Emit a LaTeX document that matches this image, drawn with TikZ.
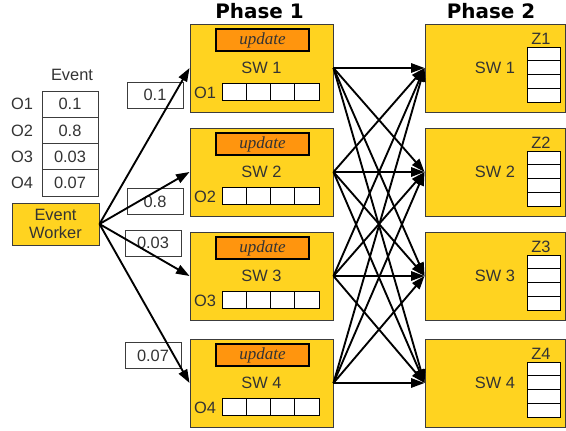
\documentclass[tikz,border=0pt]{standalone}
\usepackage{fontspec}
\setmainfont{Liberation Sans}
\newfontfamily\phasefont{DejaVu Sans}
\newfontfamily\updfont{Liberation Serif}
\usetikzlibrary{arrows.meta}

\definecolor{swyellow}{HTML}{FFD320}
\definecolor{updorange}{HTML}{FF950E}
\definecolor{txtgray}{HTML}{333333}
\definecolor{edgegray}{HTML}{3C3C3C}

\tikzset{
  swbox/.style={draw=edgegray, line width=0.8pt, fill=swyellow, inner sep=0pt,
    minimum width=4.29cm, minimum height=2.64cm},
  swboxb/.style={swbox, minimum width=4.2cm},
  updbar/.style={draw=black, line width=1.5pt, fill=updorange, inner sep=0pt,
    minimum width=2.79cm, minimum height=0.66cm,
    font=\updfont\itshape\fontsize{14.5}{16}\selectfont},
  valbox/.style={draw=edgegray, line width=0.7pt, fill=white, inner sep=0pt,
    minimum width=1.68cm, minimum height=0.78cm},
  cell/.style={draw=black, line width=0.8pt, fill=white},
  phase/.style={text=black, font=\phasefont\bfseries\fontsize{17}{19}\selectfont},
  arr/.style={-{Triangle[length=11.5pt, width=8pt]}, line width=1.6pt, black},
}

\begin{document}
\begin{tikzpicture}[x=0.03cm, y=-0.03cm,
  every node/.style={text=txtgray, font=\fontsize{14}{15.5}\selectfont}]
  \useasboundingbox (0,0) rectangle (566,431);

  \node[phase] (ph1) at (259.5,11) {Phase 1};
  \node[phase] (ph2) at (491,11) {Phase 2};

  % event table and its worker
  \node (evhead) at (72,75) {Event};
  \foreach \i/\v in {1/0.1, 2/0.8, 3/0.03, 4/0.07} {
    \node[valbox, minimum height=0.7875cm] (ev\i) at (70,77.875+26.25*\i) {\v};
    \node (eo\i) at (22,77.875+26.25*\i) {O\i};
  }
  \node[draw=edgegray, line width=0.8pt, fill=swyellow, align=center, inner sep=0pt,
    minimum width=2.61cm, minimum height=1.26cm] (worker) at (55.5,224) {Event\\Worker};

  % weights on the worker arrows
  \node[valbox] (w1) at (155,95) {0.1};
  \node[valbox] (w2) at (155,201.5) {0.8};
  \node[valbox] (w3) at (153,243) {0.03};
  \node[valbox] (w4) at (153,355.5) {0.07};

  % switches, phase 1 and phase 2
  \foreach \i/\y in {1/68, 2/172, 3/276, 4/383} {
    \node[swbox] (sa\i) at (261.5,\y) {SW \i};
    \node[updbar] (up\i) at (262.5,\y-28) {update};
    \node (oa\i) at (205,\y+25) {O\i};
    \foreach \k in {0,...,3}
      \draw[cell] (222+24.25*\k,\y+15.5) rectangle ++(24.25,17);

    \node[swboxb] (sb\i) at (495,\y) {SW \i};
    \node (zb\i) at (541,\y-29) {Z\i};
    \foreach \k in {0,...,3}
      \draw[cell] (527,\y-21+13.75*\k) rectangle ++(33,13.75);
  }

  \foreach \i in {1,...,4} {
    \draw[arr] (worker.east) -- (sa\i.west);
    \foreach \j in {1,...,4}
      \draw[arr] (sa\i.east) -- (sb\j.west);
  }
\end{tikzpicture}
\end{document}
